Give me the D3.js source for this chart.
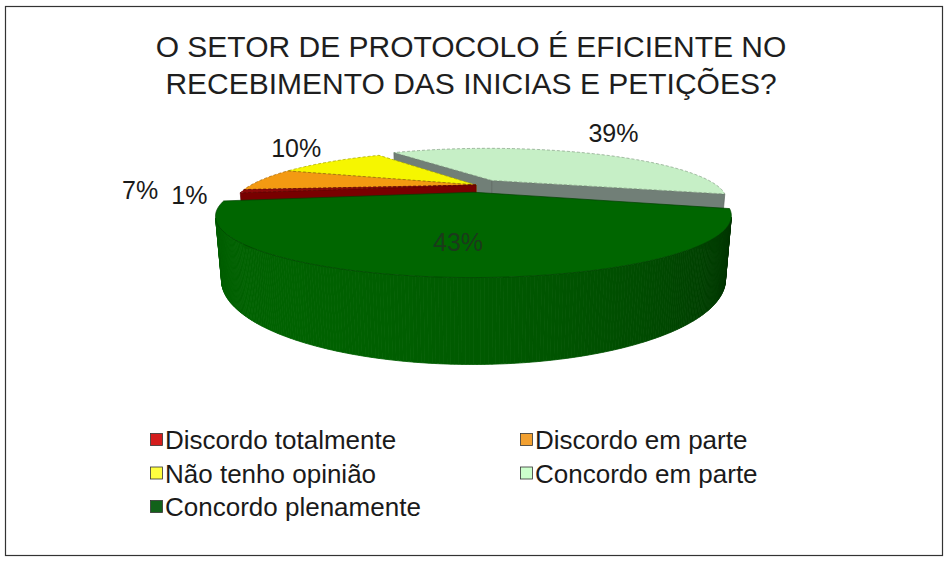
<!DOCTYPE html>
<html>
<head>
<meta charset="utf-8">
<script src="https://cdnjs.cloudflare.com/ajax/libs/d3/7.8.5/d3.min.js"></script>
<style>
  html, body { margin: 0; padding: 0; background: #fff; }
  svg { display: block; font-family: "Liberation Sans", Arial, sans-serif; }
</style>
</head>
<body>
<div id="chart"></div>
<script>
// data
var titleLines = ["O SETOR DE PROTOCOLO É EFICIENTE NO", "RECEBIMENTO DAS INICIAS E PETIÇÕES?"];
var categories = ["Discordo totalmente", "Discordo em parte", "Não tenho opinião", "Concordo em parte", "Concordo plenamente"];
var values = [1, 7, 10, 39, 43];
var labels = ["1%", "7%", "10%", "39%", "43%"];

// styles
var topColors = ["#8c0a0a", "#f39a12", "#f6f600", "#c6efc6", "#006600"];
var sideColors = ["#8a0000", "#c87400", "#b8b800", "#74827a", "#006200"];
var legendColors = ["#d41c1c", "#f2a030", "#ffff40", "#ccffcc", "#12621a"];
var explode = [0, 0, 0, 28, 33];
var labelNudge = [[22, 2], [-62, 12], [-1, -8], [5, -14], [0, -2]];

var width = 949, height = 561;
var cx = 476, cy = 185;          // screen position of pie centre
var r = 225, h = 55;             // radius and thickness (world units)
var tilt = 12 * Math.PI / 180, dist = 600;
var cosT = Math.cos(tilt), sinT = Math.sin(tilt);

// perspective projection: X right, Y up, Z towards viewer
function project(X, Y, Z) {
    var yc = Y * cosT - Z * sinT,
        zc = Y * sinT + Z * cosT,
        s = dist / (dist - zc);
    return [cx + X * s, cy - yc * s];
}

// point of a slice at angle a (clockwise from the back), radius rad, height y
function pt(a, rad, y, off) {
    return project(rad * Math.sin(a) + off[0], y, -rad * Math.cos(a) + off[1]);
}

function area(p) {
    var s = 0;
    for (var i = 0; i < p.length; i++) {
        var q = p[(i + 1) % p.length];
        s += p[i][0] * q[1] - q[0] * p[i][1];
    }
    return s / 2;
}

function shade(color, a) {
    // light from front-left
    var d = -0.6 * Math.sin(a) - 0.8 * Math.cos(a);
    var k = 0.6 + 0.4 * d;
    var c = d3.rgb(color);
    return d3.rgb(c.r * k, c.g * k, c.b * k).toString();
}

var svg = d3.select("#chart").append("svg")
    .attr("width", width)
    .attr("height", height);

svg.append("rect")
    .attr("x", 5.5).attr("y", 6.5)
    .attr("width", 937).attr("height", 549)
    .attr("fill", "#fff")
    .attr("stroke", "#333")
    .attr("stroke-width", 1.2);

svg.append("g").selectAll("text")
    .data(titleLines)
    .enter().append("text")
    .attr("x", 471)
    .attr("y", function (d, i) { return 57 + i * 37; })
    .attr("text-anchor", "middle")
    .attr("font-size", 30)
    .attr("fill", "#1e1e1e")
    .text(function (d) { return d; });

var start = 261 * Math.PI / 180;
var pie = d3.pie().sort(null).startAngle(start).endAngle(start + 2 * Math.PI);
var arcs = pie(values);

arcs.forEach(function (d, i) {
    var mid = (d.startAngle + d.endAngle) / 2;
    d.mid = mid;
    d.off = [explode[i] * Math.sin(mid), -explode[i] * Math.cos(mid)];
});

var line = d3.line();
var g = svg.append("g");

// paint from back to front
var order = arcs.slice().sort(function (a, b) {
    return (-Math.cos(a.mid)) - (-Math.cos(b.mid));
});

order.forEach(function (d) {
    var i = d.index, off = d.off,
        a0 = d.startAngle, a1 = d.endAngle,
        n = Math.max(2, Math.ceil((a1 - a0) / 0.01));
    var cT = pt(0, 0, 0, off), cB = pt(0, 0, -h, off);

    // radial faces
    var f0 = [cT, pt(a0, r, 0, off), pt(a0, r, -h, off), cB];
    var f1 = [pt(a1, r, 0, off), cT, cB, pt(a1, r, -h, off)];
    [[f0, a0 - Math.PI / 2], [f1, a1 + Math.PI / 2]].forEach(function (f) {
        if (area(f[0]) < 0) {
            var col = shade(sideColors[i], f[1]);
            g.append("path")
                .attr("d", line(f[0]) + "Z")
                .attr("fill", col)
                .attr("stroke", d3.rgb(col).darker(0.6))
                .attr("stroke-width", 0.7);
        }
    });

    // outer wall
    for (var k = 0; k < n; k++) {
        var t0 = a0 + (a1 - a0) * k / n, t1 = a0 + (a1 - a0) * (k + 1) / n;
        var q = [pt(t0, r, 0, off), pt(t1, r, 0, off), pt(t1, r, -h, off), pt(t0, r, -h, off)];
        if (area(q) < 0) {
            var col = shade(sideColors[i], (t0 + t1) / 2);
            g.append("path")
                .attr("d", line(q) + "Z")
                .attr("fill", col)
                .attr("stroke", col)
                .attr("stroke-width", 0.8);
        }
    }

    // top face
    var top = [cT];
    for (var k = 0; k <= n; k++) top.push(pt(a0 + (a1 - a0) * k / n, r, 0, off));
    g.append("path")
        .attr("d", line(top) + "Z")
        .attr("fill", topColors[i])
        .attr("stroke", d3.rgb(topColors[i]).darker(1.2))
        .attr("stroke-width", 0.7)
        .attr("stroke-dasharray", i === 4 ? null : "3,2");
});

// data labels
function labelPos(d, i) {
    var p = i === 4 ? pt(d.mid, r * 0.72, 0, d.off) : pt(d.mid, r * 1.3, 0, d.off);
    return [p[0] + labelNudge[i][0], p[1] + labelNudge[i][1] + 9];
}

svg.append("g").selectAll("text")
    .data(arcs)
    .enter().append("text")
    .attr("x", function (d, i) { return labelPos(d, i)[0]; })
    .attr("y", function (d, i) { return labelPos(d, i)[1]; })
    .attr("text-anchor", "middle")
    .attr("font-size", 25)
    .attr("fill", function (d, i) { return i === 4 ? "#1b3a1b" : "#1a1a1a"; })
    .text(function (d, i) { return labels[i]; });

// legend
var legend = svg.append("g").selectAll("g")
    .data(categories)
    .enter().append("g")
    .attr("transform", function (d, i) {
        return "translate(" + (i % 2 === 0 ? 150 : 520) + "," + (440 + Math.floor(i / 2) * 33.5) + ")";
    });

legend.append("rect")
    .attr("x", 0.5).attr("y", -6.5)
    .attr("width", 12).attr("height", 12)
    .attr("fill", function (d, i) { return legendColors[i]; })
    .attr("stroke", "#333")
    .attr("stroke-width", 0.8);

legend.append("text")
    .attr("x", 15)
    .attr("y", 9)
    .attr("font-size", 26)
    .attr("fill", "#1a1a1a")
    .text(function (d) { return d; });
</script>
</body>
</html>
